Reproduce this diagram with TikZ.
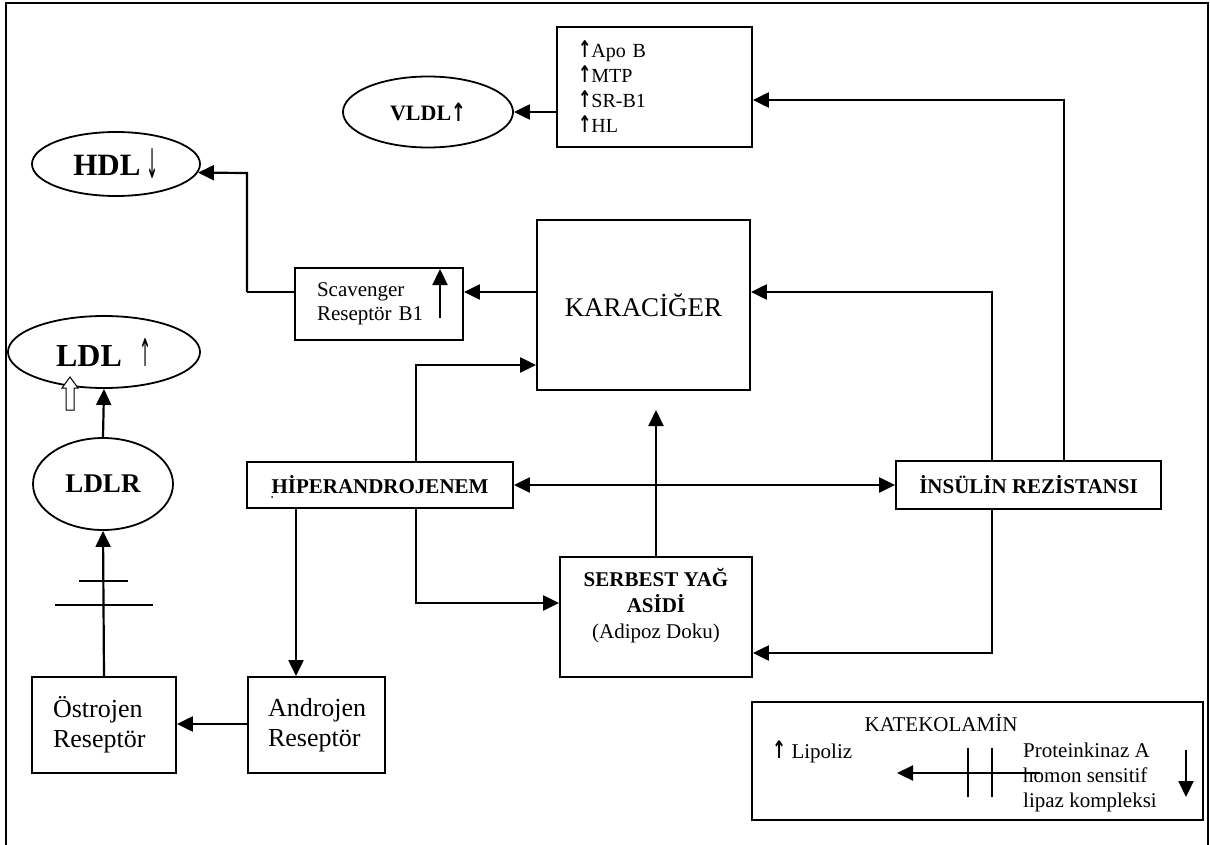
\documentclass[tikz,border=0pt]{standalone}
\usepackage{fontspec}
\usepackage{graphicx}
\setmainfont{Liberation Serif}
\newfontfamily\arrowfont{DejaVu Sans}
\usetikzlibrary{arrows.meta,shapes.geometric}
\newcommand\myfs[2]{\fontsize{#1}{#2}\selectfont}
\newcommand\upa{\raisebox{-0.5pt}{\scalebox{0.8}[1.15]{\arrowfont\bfseries ↑}}}
\newcommand\dna{\scalebox{0.6}[1.7]{\arrowfont ↓}}
\begin{document}
\begin{tikzpicture}[x=1pt,y=-1pt,
  box/.style={draw,line width=1.8pt,rectangle,inner sep=0pt},
  ell/.style={draw,line width=1.8pt,ellipse,inner sep=0pt},
  arr/.style={line width=2.2pt,-{Triangle[length=16pt,width=15pt]}},
  arrb/.style={line width=2.2pt,{Triangle[length=16pt,width=15pt]}-{Triangle[length=16pt,width=15pt]}},
  bar/.style={line width=1.2pt},
  txt/.style={inner sep=0pt}
]
\useasboundingbox (0,0) rectangle (1210,845);
% frame
\draw[line width=2pt] (6,845) -- (6,3) -- (1208,3) -- (1208,845);

% nodes
\node[box,minimum width=195pt,minimum height=120pt,text width=153pt,inner xsep=19pt,align=left,font=\myfs{20}{25}] (apo) at (654.5,87) {\upa Apo B\\\upa MTP\\\upa SR-B1\\\upa HL};
\node[ell,minimum width=170pt,minimum height=71pt,font=\bfseries\myfs{22}{26}] (vldl) at (428,112) {VLDL\upa};
\node[ell,minimum width=168pt,minimum height=64pt] (hdl) at (116,164) {\myfs{31}{34}\textbf{HDL}\hspace{6pt}{\myfs{24}{30}\raisebox{-3pt}{\dna}}};
\node[box,minimum width=168pt,minimum height=72pt,text width=124pt,inner xsep=22pt,align=left,font=\myfs{21}{23.5}] (scav) at (379,304) {Scavenger\\Reseptör B1};
\node[box,minimum width=213pt,minimum height=170pt,font=\myfs{27}{30}] (kara) at (643.5,305) {KARACİĞER};
\node[ell,minimum width=192pt,minimum height=72pt] (ldl) at (104,352) {\myfs{32}{34}\textbf{LDL}\hspace{18pt}{\myfs{24}{30}\scalebox{0.6}[1.6]{\arrowfont ↑}}};
\node[ell,minimum width=140pt,minimum height=92pt,font=\bfseries\myfs{27}{28}] (ldlr) at (103,484) {LDLR};
\node[box,minimum width=266pt,minimum height=46pt,font=\bfseries\myfs{21}{24}] (hiper) at (380,485) {HİPERANDROJENEM};
\fill (272,497) circle (1pt);
\node[box,minimum width=265pt,minimum height=48pt,font=\bfseries\myfs{21}{24}] (insulin) at (1028.5,485) {İNSÜLİN REZİSTANSI};
\node[box,minimum width=192pt,minimum height=120pt] (serbest) at (656,617) {};
\node[txt,align=center,font=\myfs{21}{26}] (serbestt) at (656,606) {\textbf{SERBEST YAĞ}\\\textbf{ASİDİ}\\(Adipoz Doku)};
\node[box,minimum width=144pt,minimum height=96pt,text width=102pt,inner xsep=21pt,align=left,font=\myfs{26}{30}] (ostro) at (104,725) {Östrojen\\Reseptör};
\node[box,minimum width=137pt,minimum height=96pt,text width=97pt,inner xsep=20pt,align=left,font=\myfs{26}{30}] (andro) at (316.5,725) {Androjen\\Reseptör};

% bottom-right box
\node[box,minimum width=451pt,minimum height=118pt] (kat) at (977.5,761) {};
\node[txt,font=\myfs{21}{24}] (katt) at (941,723) {KATEKOLAMİN};
\node[txt,font=\myfs{21}{24},anchor=west] (lip) at (772,752) {\upa\ Lipoliz};
\node[txt,font=\myfs{21}{25},anchor=west,align=left] (pka) at (1023,777) {Proteinkinaz A\\ homon sensitif\\ lipaz kompleksi};
\coordinate (ka1) at (1040,773);
\coordinate (ka2) at (897,773);
\draw[line width=2.2pt,-{Triangle[length=16pt,width=15pt]}] (ka1) -- (ka2);
\draw[bar] (968,748) -- (968,797);
\draw[bar] (992,748) -- (992,797);
\coordinate (kd1) at (1186,750);
\coordinate (kd2) at (1186,797);
\draw[line width=2.2pt,-{Triangle[length=16pt,width=15pt]}] (kd1) -- (kd2);

% connectors
\draw[arr] (apo.west |- vldl.east) -- (vldl.east);
\coordinate (c1) at (1064,100);
\draw[arr] (insulin.north -| c1) -- (c1) -- (c1 -| apo.east);
\coordinate (c0) at (0,292);
\draw[arr] (kara.west |- c0) -- (scav.east |- c0);
\coordinate (c2) at (247,292);
\draw[line width=1.8pt] (scav.west |- c2) -- (c2);
\draw[arr] (c2) -- (247,173) -- (hdl.-6);
\coordinate (c3) at (992,292);
\draw[arr] (insulin.north -| c3) -- (c3) -- (kara.east |- c3);
\coordinate (c4) at (992,653);
\draw[arr] (insulin.south -| c4) -- (c4) -- (serbest.east |- c4);
\draw[arrb] (hiper.east) -- (insulin.west);
\coordinate (c5) at (416,365);
\draw[arr] (hiper.north -| c5) -- (c5) -- (kara.west |- c5);
\coordinate (c6) at (416,603);
\draw[arr] (hiper.south -| c6) -- (c6) -- (serbest.west |- c6);
\coordinate (c7) at (656,410);
\draw[arr] (serbest.north) -- (c7);
\coordinate (c8) at (296,600);
\draw[arr] (hiper.south -| c8) -- (andro.north -| c8);
\coordinate (c9) at (0,724);
\draw[arr] (andro.west |- c9) -- (ostro.east |- c9);
\draw[arr] (ostro.north) -- (ldlr.south);
\draw[bar] (79,581) -- (128,581);
\draw[bar] (55,605) -- (153,605);
\draw[arr] (ldlr.north) -- (ldl.south);
% hollow arrow
\draw[line width=1pt,fill=white] (66,410) -- (66,388) -- (62,388) -- (70,377) -- (78,388) -- (74,388) -- (74,410) -- cycle;
% arrow inside scavenger box
\coordinate (s1) at (440,318);
\coordinate (s2) at (440,269);
\draw[line width=2.2pt,-{Triangle[length=16pt,width=15pt]}] (s1) -- (s2);
\end{tikzpicture}
\end{document}
